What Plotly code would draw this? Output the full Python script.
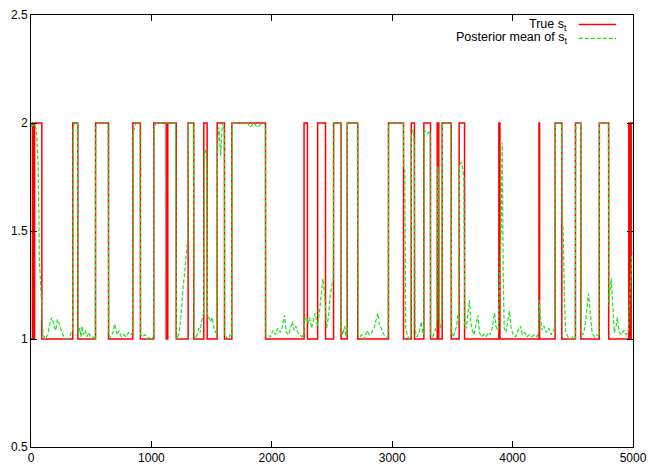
import plotly.graph_objects as go

# True state switch times and states (step function, held until next time)
red_t = [0, 12, 20, 30, 90, 347, 389, 536, 644, 846, 909, 1020, 1123, 1136, 1206, 1305,
         1352, 1435, 1463, 1546, 1607, 1668, 1948, 2268, 2296, 2381, 2446, 2513, 2575,
         2626, 2714, 2969, 3094, 3158, 3185, 3263, 3318, 3374, 3387, 3415, 3490, 3556,
         3601, 3886, 3895, 4219, 4224, 4353, 4409, 4522, 4567, 4720, 4798, 4965, 4975,
         4985, 5000]
red_s = [1, 2, 1, 2, 1, 2, 1, 2, 1, 2, 1, 2, 1, 2, 1, 2,
         1, 2, 1, 2, 1, 2, 1, 2, 1, 2, 1, 2, 1,
         2, 1, 2, 1, 2, 1, 2, 1, 2, 1, 2, 1, 2,
         1, 2, 1, 2, 1, 2, 1, 2, 1, 2, 1, 2, 1,
         2, 2]

# Posterior mean of s_t
green_t = [0, 10, 25, 45, 60, 70, 80, 92, 100,
           120, 140, 160, 175, 190, 205, 220, 235, 255, 275, 300, 320, 335, 345, 350, 360, 385, 392,
           405, 415, 425, 435, 450, 465, 480, 500, 520, 534, 538, 560, 640, 646,
           660, 680, 695, 705, 715, 730, 750, 770, 790, 810, 830, 843, 848, 860, 875, 905, 911,
           925, 945, 965, 985, 1005, 1017, 1022, 1040, 1200, 1208,
           1215, 1230, 1245, 1255, 1265, 1275, 1285, 1295, 1303, 1308, 1348, 1355,
           1365, 1380, 1395, 1405, 1415, 1425, 1433, 1440, 1450, 1460, 1466,
           1475, 1490, 1505, 1520, 1535, 1544, 1550, 1560, 1575, 1590, 1605, 1610,
           1620, 1640, 1655, 1666, 1670, 1800, 1820, 1850, 1880, 1900, 1930, 1946, 1950,
           1965, 1990, 2010, 2030, 2050, 2070, 2090, 2105, 2120, 2140, 2160, 2172, 2185, 2200,
           2215, 2230, 2250, 2265,
           2275, 2290, 2300, 2315, 2330, 2360, 2380, 2395, 2410, 2424, 2440, 2455, 2470, 2485,
           2500, 2510, 2516, 2570, 2578,
           2590, 2605, 2615, 2624, 2628, 2710, 2717,
           2730, 2750, 2770, 2790, 2810, 2830, 2850, 2865, 2880, 2895, 2910, 2930, 2950, 2966,
           2971, 3092, 3096, 3105, 3112,
           3125, 3140, 3155, 3160, 3175, 3183, 3190,
           3205, 3225, 3240, 3252, 3261, 3266, 3290, 3315, 3320,
           3335, 3350, 3365, 3372, 3378, 3385, 3392, 3400, 3412, 3418, 3488, 3494,
           3505, 3520, 3535, 3545, 3553, 3559, 3575, 3595, 3604,
           3615, 3630, 3642, 3652, 3665, 3680, 3695, 3711, 3725, 3740, 3760, 3780, 3800, 3815,
           3830, 3850, 3862, 3875, 3884, 3890, 3905, 3914, 3922, 3930,
           3945, 3960, 3974, 3988, 4005, 4025, 4045, 4065, 4080, 4100, 4120, 4140, 4160, 4180,
           4200, 4215, 4222, 4232, 4245,
           4260, 4280, 4300, 4320, 4340, 4351, 4356, 4405, 4412, 4420, 4430, 4440,
           4460, 4480, 4500, 4520, 4525, 4565, 4570,
           4585, 4600, 4615, 4630, 4645, 4660, 4680, 4700, 4717, 4722, 4795, 4800,
           4805, 4819, 4830, 4845, 4860, 4870, 4885, 4905, 4925, 4945, 4960, 4975, 4990, 5000]
green_v = [2.0, 1.98, 2.0, 1.97, 1.8, 1.35, 1.25, 1.05, 1.02,
           1.0, 1.02, 1.08, 1.1, 1.06, 1.04, 1.09, 1.07, 1.03, 1.01, 1.0, 1.01, 1.03, 1.04, 1.97, 2.0, 2.0, 1.02,
           1.05, 1.01, 1.06, 1.02, 1.04, 1.01, 1.03, 1.0, 1.01, 1.0, 1.98, 2.0, 2.0, 1.02,
           1.01, 1.03, 1.07, 1.05, 1.02, 1.04, 1.01, 1.02, 1.01, 1.03, 1.02, 1.03, 1.95, 1.98, 2.0, 2.0, 1.02,
           1.01, 1.02, 1.0, 1.01, 1.0, 1.01, 1.97, 2.0, 2.0, 1.02,
           1.0, 1.03, 1.1, 1.2, 1.25, 1.3, 1.38, 1.43, 1.45, 2.0, 2.0, 1.03,
           1.0, 1.02, 1.05, 1.03, 1.08, 1.1, 1.12, 1.86, 1.88, 1.8, 1.1,
           1.1, 1.08, 1.1, 1.05, 1.03, 1.02, 1.9, 1.98, 1.85, 2.0, 1.97, 1.02,
           1.01, 1.0, 1.02, 1.01, 2.0, 2.0, 1.98, 2.0, 1.98, 1.99, 2.0, 1.99, 1.02,
           1.02, 1.01, 1.04, 1.02, 1.05, 1.03, 1.06, 1.11, 1.03, 1.02, 1.06, 1.08, 1.04, 1.06,
           1.03, 1.02, 1.01, 1.02,
           1.09, 1.1, 1.07, 1.1, 1.05, 1.12, 1.06, 1.12, 1.2, 1.28, 1.2, 1.05, 1.1, 1.2,
           1.25, 1.28, 2.0, 2.0, 1.05,
           1.02, 1.06, 1.01, 1.02, 2.0, 2.0, 1.02,
           1.01, 1.02, 1.0, 1.04, 1.02, 1.03, 1.05, 1.08, 1.12, 1.06, 1.05, 1.02, 1.01, 1.01,
           2.0, 2.0, 1.8, 1.78, 1.05,
           1.02, 1.0, 1.01, 1.95, 1.97, 1.9, 1.04,
           1.01, 1.03, 1.08, 1.03, 1.02, 1.97, 1.95, 1.96, 1.02,
           1.01, 1.03, 1.05, 1.1, 1.8, 1.75, 1.1, 1.05, 1.08, 2.0, 2.0, 1.03,
           1.01, 1.03, 1.06, 1.11, 1.08, 1.8, 1.82, 1.75, 1.05,
           1.05, 1.12, 1.18, 1.08, 1.04, 1.02, 1.06, 1.11, 1.03, 1.01, 1.02, 1.01, 1.03, 1.02,
           1.05, 1.12, 1.06, 1.04, 1.05, 1.25, 1.5, 1.91, 1.3, 1.05,
           1.03, 1.08, 1.13, 1.05, 1.02, 1.01, 1.04, 1.06, 1.02, 1.03, 1.01, 1.02, 1.01, 1.02,
           1.01, 1.03, 1.18, 1.1, 1.04,
           1.06, 1.03, 1.05, 1.02, 1.04, 1.05, 2.0, 2.0, 1.55, 1.5, 1.2, 1.03,
           1.01, 1.0, 1.01, 1.0, 2.0, 2.0, 1.03,
           1.02, 1.05, 1.12, 1.21, 1.12, 1.03, 1.01, 1.02, 1.01, 2.0, 2.0, 1.15,
           1.2, 1.28, 1.15, 1.03, 1.06, 1.1, 1.03, 1.02, 1.04, 1.02, 1.03, 1.2, 1.39, 1.4]

x_ticks = [0, 1000, 2000, 3000, 4000, 5000]
y_ticks = [0.5, 1, 1.5, 2, 2.5]
y_labels = ["0.5", "1", "1.5", "2", "2.5"]
legend_labels = ["True s<sub>t</sub>", "Posterior mean of s<sub>t</sub>"]

RED = "#ff0000"
GREEN = "#22e022"
FONT = "Liberation Sans, Arial, sans-serif"

fig = go.Figure()
fig.add_trace(go.Scatter(x=red_t, y=red_s, mode="lines", line=dict(color=RED, width=1.5, shape="hv"),
                         name=legend_labels[0], showlegend=False))
fig.add_trace(go.Scatter(x=green_t, y=green_v, mode="lines",
                         line=dict(color=GREEN, width=1.2, dash="4px,2px"),
                         name=legend_labels[1], showlegend=False))

axis_common = dict(showgrid=False, zeroline=False, showline=True, linecolor="black", linewidth=1,
                   mirror="ticks", ticks="inside", ticklen=6, tickcolor="black", automargin=False,
                   tickfont=dict(family=FONT, size=12, color="black"))
fig.update_xaxes(range=[0, 5000], tickvals=x_ticks, ticktext=[str(v) for v in x_ticks], **axis_common)
fig.update_yaxes(range=[0.5, 2.5], tickvals=y_ticks, ticktext=y_labels, **axis_common)

# gnuplot-style legend: right-aligned text with line sample on the right
rows = [(legend_labels[0], RED, "solid", 0.978), (legend_labels[1], GREEN, "4px,2px", 0.946)]
for label, col, dash, yp in rows:
    fig.add_annotation(xref="paper", yref="paper", x=0.894, y=yp, text=label, showarrow=False,
                       xanchor="right", yanchor="middle", font=dict(family=FONT, size=12.5, color="black"))
    fig.add_shape(type="line", xref="paper", yref="paper", x0=0.910, x1=0.972, y0=yp, y1=yp,
                  line=dict(color=col, width=1.5 if dash == "solid" else 1.2, dash=dash))

fig.update_layout(width=650, height=476, margin=dict(l=31, r=17, t=15, b=29),
                  paper_bgcolor="white", plot_bgcolor="white",
                  font=dict(family=FONT, size=12, color="black"))
fig.write_html("out.html")
